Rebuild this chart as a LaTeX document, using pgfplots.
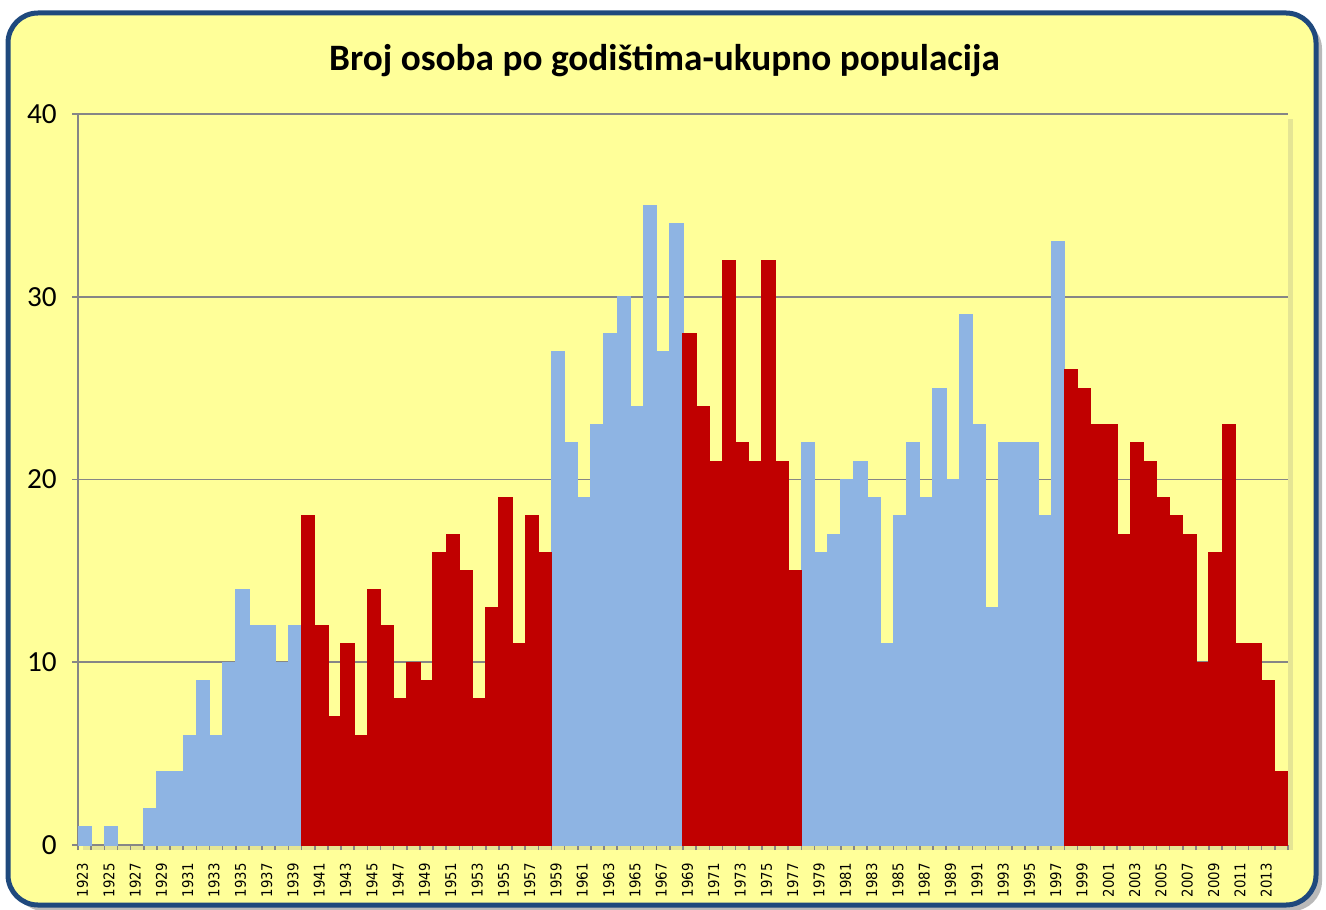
\documentclass[border=0pt]{standalone}
\usepackage{fontspec}
\setmainfont{Carlito}
\newfontfamily\tickfont{DejaVu Sans Condensed}
\usepackage{pgfplots}
\pgfplotsset{compat=1.18}
\usepackage{pgfplotstable}
\usetikzlibrary{shadows}

\definecolor{bgyellow}{HTML}{FFFF99}
\definecolor{frameblue}{HTML}{1F497D}
\definecolor{barblue}{HTML}{8EB4E3}
\definecolor{barred}{HTML}{C00000}
\definecolor{axisgray}{HTML}{868686}

% broj osoba po godistu; blue/red groups as in the original
\pgfplotstableread{
year blue red
1923 1 nan
1924 nan nan
1925 1 nan
1926 nan nan
1927 nan nan
1928 2 nan
1929 4 nan
1930 4 nan
1931 6 nan
1932 9 nan
1933 6 nan
1934 10 nan
1935 14 nan
1936 12 nan
1937 12 nan
1938 10 nan
1939 12 nan
1940 nan 18
1941 nan 12
1942 nan 7
1943 nan 11
1944 nan 6
1945 nan 14
1946 nan 12
1947 nan 8
1948 nan 10
1949 nan 9
1950 nan 16
1951 nan 17
1952 nan 15
1953 nan 8
1954 nan 13
1955 nan 19
1956 nan 11
1957 nan 18
1958 nan 16
1959 27 nan
1960 22 nan
1961 19 nan
1962 23 nan
1963 28 nan
1964 30 nan
1965 24 nan
1966 35 nan
1967 27 nan
1968 34 nan
1969 nan 28
1970 nan 24
1971 nan 21
1972 nan 32
1973 nan 22
1974 nan 21
1975 nan 32
1976 nan 21
1977 nan 15
1978 22 nan
1979 16 nan
1980 17 nan
1981 20 nan
1982 21 nan
1983 19 nan
1984 11 nan
1985 18 nan
1986 22 nan
1987 19 nan
1988 25 nan
1989 20 nan
1990 29 nan
1991 23 nan
1992 13 nan
1993 22 nan
1994 22 nan
1995 22 nan
1996 18 nan
1997 33 nan
1998 nan 26
1999 nan 25
2000 nan 23
2001 nan 23
2002 nan 17
2003 nan 22
2004 nan 21
2005 nan 19
2006 nan 18
2007 nan 17
2008 nan 10
2009 nan 16
2010 nan 23
2011 nan 11
2012 nan 11
2013 nan 9
2014 nan 4
}\godista

\begin{document}
\begin{tikzpicture}
\useasboundingbox (0,0) rectangle (13.26,9.09);
\draw[line width=0.05cm, draw=frameblue, fill=bgyellow, rounded corners=0.3cm,
  drop shadow={opacity=0.55, shadow xshift=0.06cm, shadow yshift=-0.06cm}]
  (0.08,0.04) rectangle (13.16,8.96);
\node[font=\fontsize{10.6}{12}\selectfont\bfseries] at (6.645,8.48)
  {Broj osoba po godištima-ukupno populacija};
\begin{axis}[
  at={(0.78cm,0.64cm)}, anchor=south west,
  scale only axis, width=12.10cm, height=7.31cm,
  xmin=1922.5, xmax=2014.5, ymin=0, ymax=40,
  axis x line*=bottom, axis y line*=left,
  axis line style={axisgray, line width=0.45pt},
  axis background/.style={fill=bgyellow,
    drop shadow={opacity=0.2, shadow xshift=0.05cm, shadow yshift=-0.05cm}},
  ytick={0,10,20,30,40},
  ymajorgrids, major grid style={axisgray, line width=0.45pt},
  xtick={1923,1925,...,2013},
  minor xtick={1922.5,1923.5,...,2014.5},
  tick align=outside,
  major tick length=0.06cm, minor tick length=0.05cm,
  tick style={axisgray, line width=0.45pt},
  major x tick style={draw=none},
  /pgf/number format/1000 sep={},
  /pgf/number format/assume math mode=true,
  yticklabel style={font=\fontsize{8.3}{9}\selectfont, black, xshift=-0.03cm},
  xticklabel style={font=\tickfont\fontsize{4.2}{5}\selectfont, black,
    rotate=90, anchor=east, yshift=0.02cm},
]
\addplot[ybar, bar width=1, bar shift=0, fill=barblue, draw=barblue, line width=0.35pt]
  table[x=year, y=blue] {\godista};
\addplot[ybar, bar width=1, bar shift=0, fill=barred, draw=barred, line width=0.35pt]
  table[x=year, y=red] {\godista};
\end{axis}
\end{tikzpicture}
\end{document}
